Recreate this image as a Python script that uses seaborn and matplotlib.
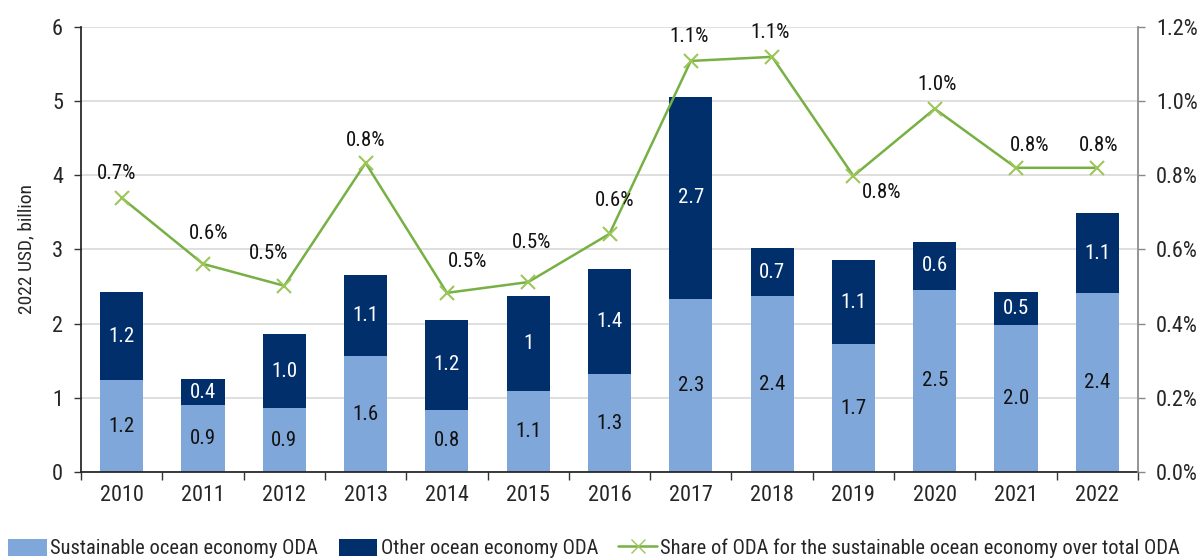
import matplotlib
matplotlib.use("Agg")
import matplotlib.pyplot as plt
import seaborn as sns
import numpy as np
import pandas as pd
from matplotlib.lines import Line2D
from matplotlib.patches import Patch
from matplotlib import font_manager

years = ["2010", "2011", "2012", "2013", "2014", "2015", "2016",
         "2017", "2018", "2019", "2020", "2021", "2022"]
sustainable = [1.24, 0.90, 0.86, 1.56, 0.84, 1.09, 1.32, 2.33, 2.37, 1.72, 2.46, 1.98, 2.41]
other = [1.18, 0.35, 1.00, 1.10, 1.21, 1.28, 1.42, 2.73, 0.65, 1.14, 0.64, 0.45, 1.08]
share = [0.739, 0.561, 0.502, 0.833, 0.483, 0.512, 0.642, 1.108, 1.119, 0.798, 0.979, 0.820, 0.820]
sust_labels = ["1.2", "0.9", "0.9", "1.6", "0.8", "1.1", "1.3", "2.3", "2.4", "1.7", "2.5", "2.0", "2.4"]
other_labels = ["1.2", "0.4", "1.0", "1.1", "1.2", "1", "1.4", "2.7", "0.7", "1.1", "0.6", "0.5", "1.1"]
share_labels = ["0.7%", "0.6%", "0.5%", "0.8%", "0.5%", "0.5%", "0.6%", "1.1%", "1.1%", "0.8%", "1.0%", "0.8%", "0.8%"]

# label offsets in pixels (dx, dy-up) relative to each point -- layout only
label_offsets_px = [(-5, 24), (6, 30), (-16, 32), (0, 22), (21, 31), (3, 40), (5, 33),
                    (-2, 24), (-2, 24), (28, -17), (2, 24), (14, 22), (1, 22)]

sns.set_theme(style="white")
names = sorted({f.name for f in font_manager.fontManager.ttflist})
fam = None
for cand in ["Liberation Sans Narrow", "Arial Narrow", "Roboto Condensed", "DejaVu Sans Condensed",
             "Open Sans Condensed", "Noto Sans Condensed"]:
    if cand in names:
        fam = cand
        break
if fam is None:
    narrow = [n for n in names if ("Narrow" in n or "Condensed" in n)]
    fam = narrow[0] if narrow else "Liberation Sans"
plt.rcParams["font.family"] = [fam, "DejaVu Sans"]

LIGHT = "#7FA7D9"
DARK = "#002F6C"
GREEN = "#77B043"
MARK = "#9CC65A"
FS = 15

df = pd.DataFrame({"year": years, "sust": sustainable, "other": other, "share": share})
df["total"] = df["sust"] + df["other"]

fig = plt.figure(figsize=(11.99, 5.58), dpi=100)
ax = fig.add_axes([0.0676, 0.154, 0.8815, 0.798])

sns.barplot(data=df, x="year", y="total", color=DARK, saturation=1, width=0.53, ax=ax, edgecolor="none")
sns.barplot(data=df, x="year", y="sust", color=LIGHT, saturation=1, width=0.53, ax=ax, edgecolor="none")

ax.set_ylim(0, 6)
ax.set_xlim(-0.5, 12.5)
ax.set_yticks(range(0, 7))
ax.yaxis.grid(True, color="#d9d9d9", linewidth=1.2)
ax.set_axisbelow(True)
ax.set_xlabel("")
ax.set_ylabel("2022 USD, billion", fontsize=14, labelpad=12)
ax.tick_params(axis="y", labelsize=FS + 1, length=5, width=1, color="#333333", direction="out", left=True, pad=8)
ax.tick_params(axis="x", labelsize=FS + 1, length=0, pad=9)
ax.set_xticks(np.arange(-0.5, 13.0, 1.0), minor=True)
ax.tick_params(axis="x", which="minor", length=6, width=1, color="#333333", direction="out", bottom=True)
ax.spines["top"].set_visible(False)
ax.spines["right"].set_visible(False)
ax.spines["left"].set_color("#222222")
ax.spines["bottom"].set_color("#222222")

for i in range(len(years)):
    ax.text(i, sustainable[i] / 2, sust_labels[i], ha="center", va="center", fontsize=FS, color="#111111")
    ax.text(i, sustainable[i] + other[i] / 2, other_labels[i], ha="center", va="center", fontsize=FS, color="white")

ax2 = ax.twinx()
sns.lineplot(x=np.arange(len(years)), y=share, ax=ax2, color=GREEN, linewidth=1.8,
             marker="x", markersize=10, markeredgewidth=1.5, markeredgecolor=MARK)
ax2.set_ylim(0, 1.2)
ax2.set_yticks(np.arange(0, 1.21, 0.2))
ax2.set_yticklabels([f"{v:.1f}%" for v in np.arange(0, 1.21, 0.2)])
ax2.tick_params(axis="y", labelsize=FS + 1, length=5, width=1, color="#888888", direction="out", right=True, pad=8)
ax2.grid(False)
for s in ["top", "left", "bottom"]:
    ax2.spines[s].set_visible(False)
ax2.spines["right"].set_color("#888888")
ax2.set_xlim(-0.5, 12.5)

for i, lab in enumerate(share_labels):
    dx, dy = label_offsets_px[i]
    ax2.annotate(lab, (i, share[i]), xytext=(dx * 0.72, dy * 0.72), textcoords="offset points",
                 ha="center", va="center", fontsize=FS, color="#111111")

handles = [Patch(facecolor=LIGHT, edgecolor="none"),
           Patch(facecolor=DARK, edgecolor="none"),
           Line2D([0], [0], color=GREEN, marker="x", markeredgecolor=MARK, markersize=10, linewidth=1.8)]
labels = ["Sustainable ocean economy ODA", "Other ocean economy ODA",
          "Share of ODA for the sustainable ocean economy over total ODA"]

renderer = fig.canvas.get_renderer()
lfs = 18
while True:
    leg = fig.legend(handles, labels, loc="lower left", bbox_to_anchor=(0.0, -0.015), ncol=3, frameon=False,
                     fontsize=lfs, handlelength=1.9, handleheight=0.9, handletextpad=0.15,
                     columnspacing=1.0, borderaxespad=0.2, borderpad=0.2)
    bb = leg.get_window_extent(renderer)
    if bb.x1 <= 1197 or lfs <= 9:
        break
    leg.remove()
    lfs -= 0.25

fig.savefig("out.png", dpi=100)
